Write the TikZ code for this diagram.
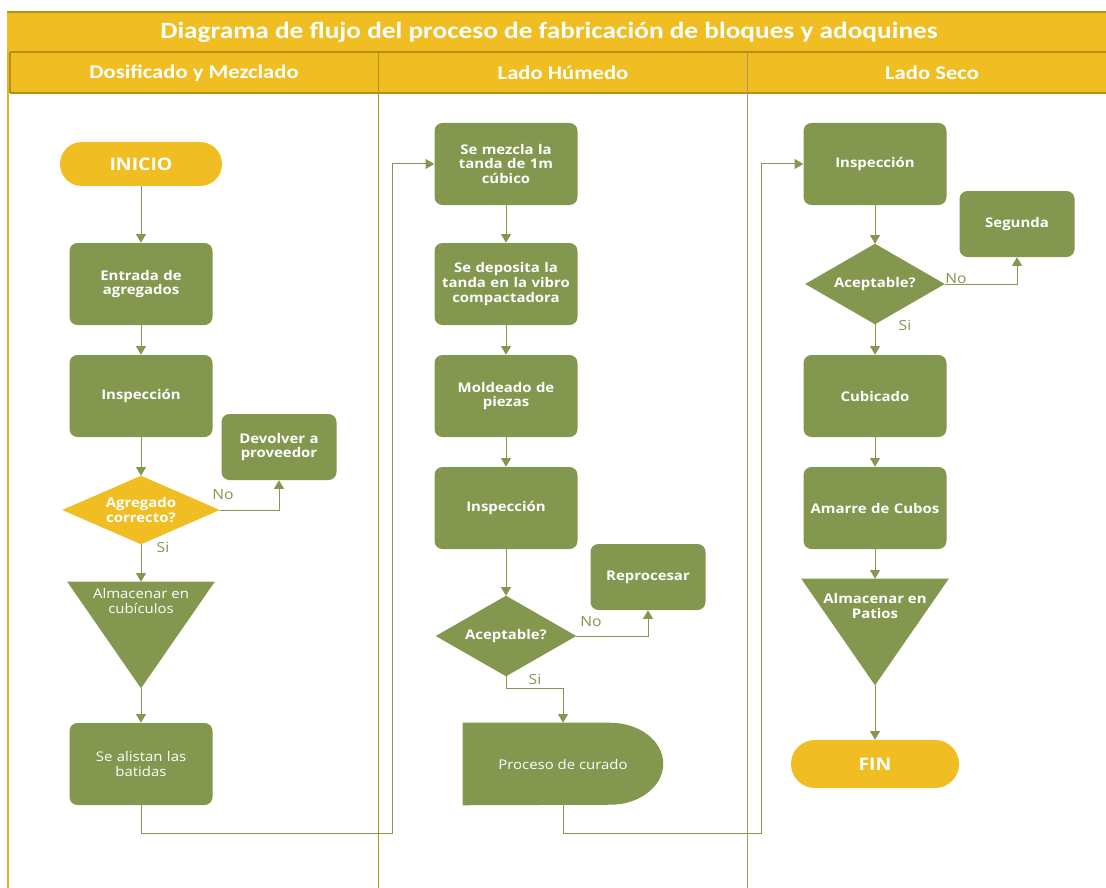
\documentclass[tikz,border=0pt]{standalone}
\usepackage{fontspec}
\setmainfont[FakeStretch=1.12]{Open Sans}
\newfontfamily\hdfont[FakeStretch=1.17]{Carlito}
\usetikzlibrary{shapes.geometric,arrows.meta,calc}
\definecolor{grn}{HTML}{84974F}
\definecolor{ylw}{HTML}{F0BE22}
\definecolor{gold}{HTML}{B8900F}
\definecolor{lanegray}{HTML}{A89860}
\tikzset{
  box/.style={draw=none,fill=grn,rounded corners=6pt,minimum width=107.25pt,minimum height=61.5pt,
    text width=104pt,align=center,text=white,font=\fontsize{10}{11}\selectfont\bfseries,inner sep=0pt},
  sbox/.style={box,minimum width=86.25pt,minimum height=49.5pt,text width=84pt},
  term/.style={draw=none,fill=ylw,minimum width=121.5pt,minimum height=33pt,rounded corners=16.4pt,
    text=white,font=\fontsize{13}{14}\selectfont\bfseries,inner sep=0pt},
  frame/.style={draw=none,fill=none,inner sep=0pt},
  dtext/.style={text=white,font=\fontsize{10}{11}\selectfont\bfseries,inner sep=0pt,align=center},
  arr/.style={draw=grn,line width=0.75pt,-{Triangle[width=7.5pt,length=6.5pt]}},
  lbl/.style={text=grn,font=\fontsize{10.5}{12}\selectfont,inner sep=0pt},
  lane/.style={line width=1pt},
  hdr/.style={text=white,font=\hdfont\fontsize{14.5}{16}\selectfont\bfseries},
}
\begin{document}
\begin{tikzpicture}[x=0.75pt,y=-0.75pt]
\useasboundingbox (0,0) rectangle (1106,888);
% title and header
\fill[ylw] (7,12) rectangle (1106,93);
\draw[gold,line width=1.2pt] (7,12) -- (1106,12);
\draw[gold,line width=1pt] (10,52) -- (1106,52);
\draw[gold,line width=1pt] (10,93) -- (1106,93);
\draw[gold,line width=1pt] (10,52) -- (10,93);
\node[text=white,font=\hdfont\fontsize{17.5}{19}\selectfont\bfseries] (title) at (549,32) {Diagrama de flujo del proceso de fabricación de bloques y adoquines};
\node[hdr] (h1) at (194,73) {Dosificado y Mezclado};
\node[hdr] (h2) at (563,73) {Lado Húmedo};
\node[hdr] (h3) at (932,73) {Lado Seco};
% lane lines
\draw[lane,draw=ylw!80!gold,line width=1.6pt] (8,52) -- (8,888);
\draw[lane,draw=gold] (378.5,52) -- (378.5,888);
\draw[lane,draw=lanegray] (747.5,52) -- (747.5,888);

% lane 1
\node[term] (inicio) at (141,164) {INICIO};
\node[box] (entrada) at (141,284) {Entrada de\\agregados};
\node[box] (insp1) at (141,396) {Inspección};
\node[sbox] (devolver) at (279,447) {Devolver a\\proveedor};
\node[frame,minimum width=117.75pt,minimum height=51pt] (dia1) at (141,510) {};
\fill[ylw] (dia1.north) -- (dia1.east) -- (dia1.south) -- (dia1.west) -- cycle;
\node[dtext] (dia1t) at (141,510) {Agregado\\correcto?};
\node[frame,minimum width=110.25pt,minimum height=79.5pt] (tri1) at (141,635) {};
\fill[grn] (tri1.north west) -- (tri1.north east) -- (tri1.south) -- cycle;
\node[align=center,text=white,font=\fontsize{10}{11}\selectfont,inner sep=0pt] (tri1t) at (141,601) {Almacenar en\\cubículos};
\node[box,font=\fontsize{10}{11}\selectfont] (alistan) at (141,764) {Se alistan las\\batidas};

% lane 2
\node[box] (mezcla) at (506,164) {Se mezcla la\\tanda de 1m\\cúbico};
\node[box] (deposita) at (506,284) {Se deposita la\\tanda en la vibro\\compactadora};
\node[box] (moldeado) at (506,396) {Moldeado de\\piezas};
\node[box] (insp2) at (506,508) {Inspección};
\node[sbox] (reproc) at (648,577) {Reprocesar};
\node[frame,minimum width=105pt,minimum height=60pt] (dia2) at (506,636) {};
\fill[grn] (dia2.north) -- (dia2.east) -- (dia2.south) -- (dia2.west) -- cycle;
\node[dtext] (dia2t) at (506,636) {Aceptable?};
\node[frame,minimum width=150pt,minimum height=61.5pt] (curado) at (563,764) {};
\fill[grn] (curado.north west) -- ($(curado.north east)+(-53,0)$) arc[start angle=90,end angle=-90,x radius=39.75pt,y radius=30.75pt] -- (curado.south west) -- cycle;
\node[text=white,font=\fontsize{10}{11}\selectfont,inner sep=0pt] (curadot) at (563,764) {Proceso de curado};

% lane 3
\node[box] (insp3) at (875,164) {Inspección};
\node[sbox] (segunda) at (1017,224) {Segunda};
\node[frame,minimum width=104.25pt,minimum height=60pt] (dia3) at (875,284) {};
\fill[grn] (dia3.north) -- (dia3.east) -- (dia3.south) -- (dia3.west) -- cycle;
\node[dtext] (dia3t) at (875,284) {Aceptable?};
\node[box] (cubicado) at (875,396) {Cubicado};
\node[box] (amarre) at (875,508) {Amarre de Cubos};
\node[frame,minimum width=110.25pt,minimum height=79.5pt] (tri2) at (875,632) {};
\fill[grn] (tri2.north west) -- (tri2.north east) -- (tri2.south) -- cycle;
\node[align=center,text=white,font=\fontsize{10}{11}\selectfont\bfseries,inner sep=0pt] (tri2t) at (875,606) {Almacenar en\\Patios};
\node[term,minimum width=126pt,minimum height=36pt,rounded corners=17.9pt] (fin) at (875,764) {FIN};

% connectors lane 1
\draw[arr] (inicio) -- (entrada);
\draw[arr] (entrada) -- (insp1);
\draw[arr] (insp1.south) -- (dia1.north);
\draw[arr] (dia1.east) -| (devolver.south);
\draw[arr] (dia1.south) -- (tri1.north);
\draw[arr] (tri1.south) -- (alistan.north);
\draw[arr] (alistan.south) -- ++(0,28) -| ([xshift=-31.5pt]mezcla.west) -- (mezcla.west);
\node[lbl] (no1) at (223,495) {No};
\node[lbl] (si1) at (163,547) {Si};

% connectors lane 2
\draw[arr] (mezcla) -- (deposita);
\draw[arr] (deposita) -- (moldeado);
\draw[arr] (moldeado) -- (insp2);
\draw[arr] (insp2.south) -- (dia2.north);
\draw[arr] (dia2.east) -| (reproc.south);
\draw[arr] (dia2.south) -- ++(0,12) -| (curado.north);
\draw[arr] (curado.south) -- ++(0,28) -| ([xshift=-31.5pt]insp3.west) -- (insp3.west);
\node[lbl] (no2) at (591,622) {No};
\node[lbl] (si2) at (535,679) {Si};

% connectors lane 3
\draw[arr] (insp3.south) -- (dia3.north);
\draw[arr] (dia3.east) -| (segunda.south);
\draw[arr] (dia3.south) -- (cubicado.north);
\draw[arr] (cubicado) -- (amarre);
\draw[arr] (amarre.south) -- (tri2.north);
\draw[arr] (tri2.south) -- (fin.north);
\node[lbl] (no3) at (956,279) {No};
\node[lbl] (si3) at (905,325) {Si};
\end{tikzpicture}
\end{document}
